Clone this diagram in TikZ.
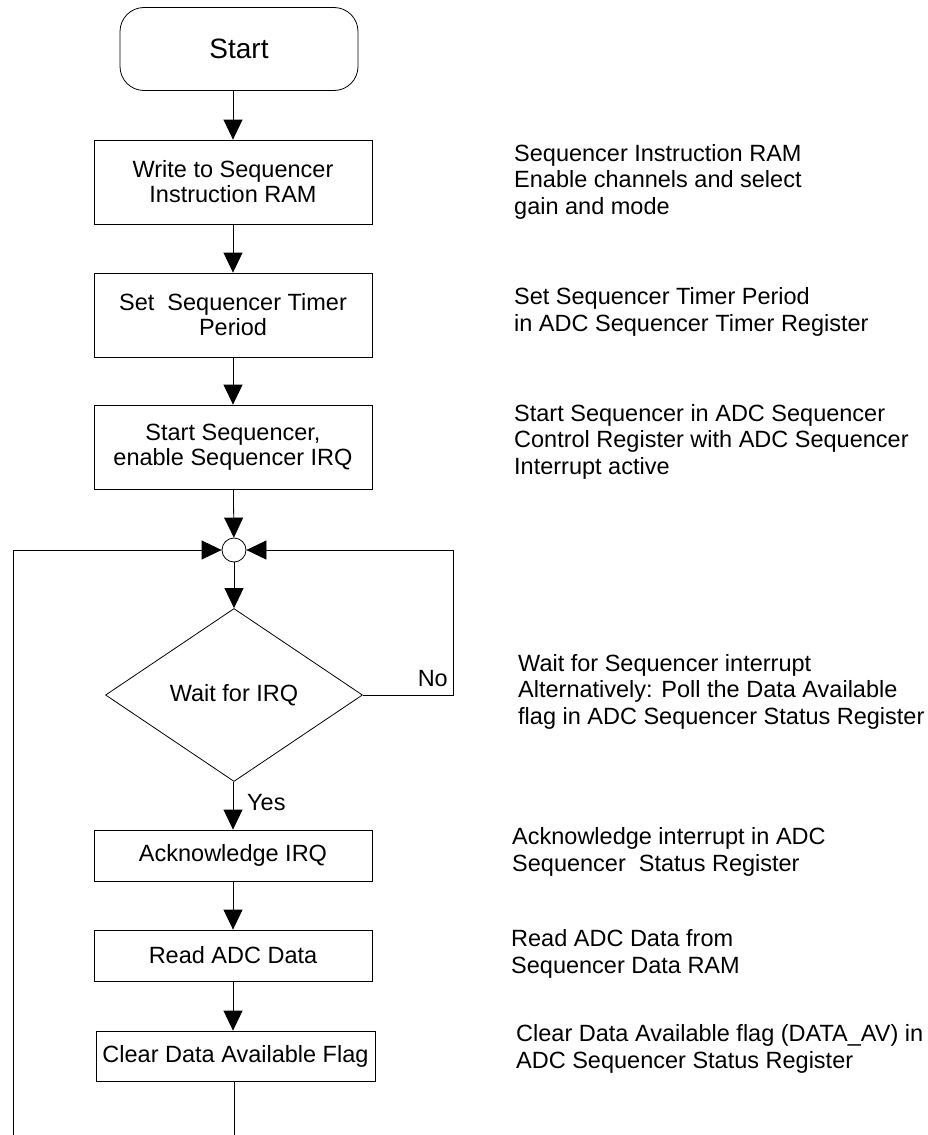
\documentclass[tikz,border=0pt]{standalone}
\usepackage{fontspec}
\setmainfont{Liberation Sans}
\usetikzlibrary{shapes.geometric,arrows.meta}
\begin{document}
\begin{tikzpicture}[x=1pt,y=-1pt,
    box/.style={draw, line width=0.8pt, minimum width=278pt, inner sep=0pt, align=center, font=\fontsize{23.5}{25}\selectfont},
    arr/.style={line width=0.8pt, -{Triangle[length=20pt,width=19pt]}},
    note/.style={anchor=base west, align=left, inner sep=0pt, font=\fontsize{23.5}{26.3}\selectfont}]
    \useasboundingbox (0,0) rectangle (928,1135);
    \node[box, rounded corners=24pt, minimum width=238pt, minimum height=83pt, font=\fontsize{28}{32}\selectfont] (start) at (239,49) {Start};
    \node[box, minimum height=84pt] (instr) at (233,182) {Write to Sequencer\\Instruction RAM};
    \node[box, minimum height=84pt] (timer) at (233,315) {Set\ \ Sequencer Timer\\Period};
    \node[box, minimum height=84pt] (run) at (233,447) {Start Sequencer,\\enable Sequencer IRQ};
    \node[draw, circle, line width=0.8pt, minimum size=24pt, inner sep=0pt] (join) at (234,550) {};
    \node[draw, diamond, line width=0.8pt, minimum width=257pt, minimum height=173pt, inner sep=0pt, font=\fontsize{23.5}{25}\selectfont] (wait) at (234,695) {Wait for IRQ};
    \node[box, minimum height=51pt] (ack) at (233,855.5) {Acknowledge IRQ};
    \node[box, minimum height=51pt] (read) at (233,955.5) {Read ADC Data};
    \node[box, minimum width=279pt, minimum height=50pt] (clear) at (235.5,1056) {Clear Data Available Flag};
    \node[anchor=west, inner sep=0pt, font=\fontsize{23.5}{25}\selectfont] (yes) at (247,803) {Yes};
    \node[anchor=south east, inner sep=0pt, font=\fontsize{23.5}{25}\selectfont] (no) at (448,687) {No};
    \coordinate (noturn) at (453,695);
    \coordinate (loopin) at (13,1135);
    \coordinate (loopout) at (234,1135);
    \draw[arr] (instr.north |- start.south) -- (instr.north);
    \draw[arr] (instr) -- (timer);
    \draw[arr] (timer) -- (run);
    \draw[arr] (run) -- (join);
    \draw[arr] (join) -- (wait);
    \draw[arr] (wait.south) -- (ack.north |- wait.south) -- (ack.north);
    \draw[arr] (wait.east) -- (noturn) |- (join.east);
    \draw[arr] (ack) -- (read);
    \draw[arr] (read) -- (read |- clear.north);
    \draw[arr] (loopin) |- (join.west);
    \draw[line width=0.8pt] (clear.south -| loopout) -- (loopout);
    % notes on the right
    \node[note] (n1) at (514,214) {Sequencer Instruction RAM\\Enable channels and select\\gain and mode};
    \node[note] (n2) at (514,331) {Set Sequencer Timer Period\\in ADC Sequencer Timer Register};
    \node[note] (n3) at (514,474) {Start Sequencer in ADC Sequencer\\Control Register with ADC Sequencer\\Interrupt active};
    \node[note] (n4) at (518,724) {Wait for Sequencer interrupt\\Alternatively: Poll the Data Available\\flag in ADC Sequencer Status Register};
    \node[note] (n5) at (512,871) {Acknowledge interrupt in ADC\\Sequencer\ \ Status Register};
    \node[note] (n6) at (511,973) {Read ADC Data from\\Sequencer Data RAM};
    \node[note] (n7) at (516,1068) {Clear Data Available flag (DATA\_AV) in\\ADC Sequencer Status Register};
\end{tikzpicture}
\end{document}
